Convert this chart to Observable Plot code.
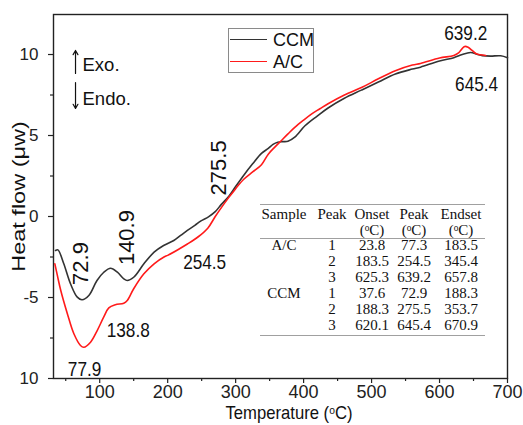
<!DOCTYPE html>
<html><head><meta charset="utf-8">
<script src="https://cdn.jsdelivr.net/npm/d3@7"></script>
<script src="https://cdn.jsdelivr.net/npm/@observablehq/plot@0.6"></script>
<style>
body{margin:0;background:#fff;}
#wrap{position:relative;width:523px;height:425px;overflow:hidden;font-family:"Liberation Sans",Arial,sans-serif;color:#111;}
.abs{position:absolute;white-space:nowrap;}
.cell{position:absolute;transform:translateX(-50%);text-align:center;font-family:"Liberation Serif","Times New Roman",serif;font-size:15px;line-height:13px;color:#111;white-space:nowrap;}
.rule{position:absolute;height:0;border-top:1px solid #a0a0a0;}
sup{font-size:0.62em;vertical-align:0.45em;line-height:0;}
</style></head><body><div id="wrap"></div>
<script>
// ---- data ----
const ccmT = [35,38.5,47,57,67,74,84,96,106,116,126,135.5,140.5,150,165,180,194,209,219,229,240,249,260,270,279,290,300,312,325,338,348,355,362,370,377,387,402,420,436,460,485,510,535,560,572,600,621,630,640,646,655,663,675,690,700];
const ccmH = [-2.1,-2.06,-2.9,-4.15,-4.98,-5.14,-4.88,-3.95,-3.44,-3.19,-3.44,-3.85,-3.95,-3.75,-2.92,-2.2,-1.79,-1.48,-1.17,-0.86,-0.55,-0.27,-0.02,0.3,0.75,1.25,1.85,2.55,3.25,3.9,4.2,4.45,4.58,4.62,4.65,4.9,5.6,6.2,6.7,7.3,7.8,8.3,8.8,9.1,9.22,9.6,9.8,9.95,10.08,10.12,10.02,9.93,9.9,9.92,9.8];
const acT = [34,38,42.7,52.4,62,71.7,76.6,86.5,96.3,106,113.4,123,135.4,140.5,150,165,180,194.6,200,215,229,245,259,270,279,290,300,312,325,338,348,358,367,377,387,400,412,424,436,460,486,510,535,560,572,600,621,628,633,637,642,648,654,660,668];
const acH = [-2.92,-3.7,-4.57,-6.0,-7.24,-7.96,-8.07,-7.76,-7.04,-6.2,-5.64,-5.45,-5.35,-5.19,-4.46,-3.54,-2.92,-2.5,-2.4,-2.05,-1.7,-1.25,-0.72,0.0,0.55,1.18,1.72,2.3,2.75,3.2,3.85,4.3,4.68,5.1,5.5,5.95,6.34,6.65,6.96,7.5,7.98,8.5,9.0,9.35,9.45,9.78,9.94,10.1,10.35,10.5,10.45,10.25,10.05,9.98,9.94];

const seriesNames = ["CCM", "A/C"];
const seriesColors = ["#333333", "#ff1a1a"];

const xTicks = [100,200,300,400,500,600,700];
const xMinorTicks = [50,150,250,350,450,550,650];
const yTicks = [-10,-5,0,5,10];
const yTickLabels = ["10","-5","0","5","10"];
const yMinorTicks = [-7.5,-2.5,2.5,7.5];

const xTitle = "Temperature (";
const yTitle = "Heat flow (μw)";

// peak labels
const vLabelText = ["72.9","140.9","275.5"];
const vLabelT = [73,140,275];
const vLabelH = [-2.9,-1.3,3.0];
const hLabelText = ["254.5","138.8","77.9","639.2","645.4"];
const hLabelT = [254.4,141.9,77.7,638.5,654.6];
const hLabelH = [-2.85,-7.0,-9.4,11.33,8.15];

// Exo / Endo
const dirText = ["Exo.","Endo."];
const dirT = [74.7,74.7];
const dirH = [9.32,7.22];
const arrowT = [64.4,64.4];
const arrowFrom = [8.83,8.27];
const arrowTo = [10.25,6.67];

// table
const tableHeader1 = ["Sample","Peak","Onset","Peak","Endset"];
const tableHeader2 = ["","","(<sup>o</sup>C)","(<sup>o</sup>C)","(<sup>o</sup>C)"];
const tableSample = ["A/C","","","CCM","",""];
const tablePeak = ["1","2","3","1","2","3"];
const tableOnset = ["23.8","183.5","625.3","37.6","188.3","620.1"];
const tablePeakT = ["77.3","254.5","639.2","72.9","275.5","645.4"];
const tableEndset = ["183.5","345.4","657.8","188.3","353.7","670.9"];

// ---- build ----
const ccm = ccmT.map((t,i)=>({t, h: ccmH[i]}));
const ac = acT.map((t,i)=>({t, h: acH[i]}));
const vLabels = vLabelText.map((s,i)=>({s, t:vLabelT[i], h:vLabelH[i]}));
const hLabels = hLabelText.map((s,i)=>({s, t:hLabelT[i], h:hLabelH[i]}));
const dirs = dirText.map((s,i)=>({s, t:dirT[i], h:dirH[i]}));
const arrows = arrowT.map((t,i)=>({t, h1:arrowFrom[i], h2:arrowTo[i]}));
const yLab = new Map(yTicks.map((v,i)=>[v, yTickLabels[i]]));

const plot = Plot.plot({
  width: 523, height: 425,
  marginLeft: 53, marginRight: 16, marginTop: 14, marginBottom: 47,
  x: {domain: [32, 700]},
  y: {domain: [-10, 12.47]},
  style: {fontFamily: "'Liberation Sans',Arial,sans-serif", fontSize: "17px", color: "#222", background: "transparent"},
  marks: [
    Plot.axisX({ticks: xTicks, tickSize: 5, tickPadding: 2, tickFormat: d => String(d), label: null, fontSize: 18, strokeWidth: 1.2}),
    Plot.axisX({ticks: xMinorTicks, tickSize: 3, tickFormat: () => "", label: null, strokeWidth: 1.2}),
    Plot.axisY({ticks: yTicks, tickSize: 5, tickPadding: 10, tickFormat: d => yLab.get(d), label: null, fontSize: 17, strokeWidth: 1.2}),
    Plot.axisY({ticks: yMinorTicks, tickSize: 3, tickFormat: () => "", label: null, strokeWidth: 1.2}),
    Plot.frame({stroke: "#222", strokeWidth: 1.4}),
    Plot.line(ccm, {x: "t", y: "h", stroke: seriesColors[0], strokeWidth: 1.6, curve: "catmull-rom"}),
    Plot.line(ac, {x: "t", y: "h", stroke: seriesColors[1], strokeWidth: 1.6, curve: "catmull-rom"}),
    Plot.text(vLabels, {x: "t", y: "h", text: "s", rotate: -90, fontSize: 22, fill: "#111"}),
    Plot.text(hLabels, {x: "t", y: "h", text: "s", fontSize: 21, fill: "#111"}),
    Plot.arrow(arrows, {x1: "t", y1: "h1", x2: "t", y2: "h2", stroke: "#111", strokeWidth: 1.2, headLength: 6}),
    Plot.text(dirs, {x: "t", y: "h", text: "s", textAnchor: "start", fontSize: 18.5, fill: "#111"}),
    Plot.text([yTitle], {frameAnchor: "left", text: d => d, rotate: -90, textAnchor: "middle", dx: -35, fontSize: 23.5, fill: "#111"})
  ]
});
// horizontal condensing, as in the reference
const hSet = new Set(hLabelText);
plot.querySelectorAll("text").forEach(t => {
  const tr = t.getAttribute("transform") || "";
  if (hSet.has(t.textContent)) t.setAttribute("transform", tr + " scale(0.82,1)");
  else if (t.textContent === yTitle && tr.includes("rotate(-90)")) t.setAttribute("transform", tr.replace("rotate(-90)", "scale(0.8,1) rotate(-90)"));
});
const wrap = document.getElementById("wrap");
wrap.appendChild(plot);
plot.style.position = "absolute"; plot.style.left = "0"; plot.style.top = "0";

// x title
const xt = document.createElement("div");
xt.className = "abs";
xt.style.cssText = "left:289px;top:406px;transform:translateX(-50%) scaleX(0.9);font-size:18.5px;line-height:14px;";
xt.innerHTML = xTitle + "<sup>o</sup>C)";
wrap.appendChild(xt);

// legend
const lg = document.createElement("div");
lg.className = "abs";
lg.style.cssText = "left:228px;top:28px;width:84px;height:43px;border:1px solid #8a8a8a;background:#fff;";
seriesNames.forEach((n,i)=>{
  const ln = document.createElement("div");
  ln.className = "abs";
  ln.style.cssText = `left:1px;top:${10 + i*22}px;width:37px;height:0;border-top:1.6px solid ${seriesColors[i]};`;
  lg.appendChild(ln);
  const tx = document.createElement("div");
  tx.className = "abs";
  tx.style.cssText = `left:44px;top:${1 + i*22}px;font-size:18px;line-height:20px;`;
  tx.textContent = n;
  lg.appendChild(tx);
});
wrap.appendChild(lg);

// table
const colX = [284, 332, 372, 414, 461];
const addCell = (html, cx, cy) => {
  if (!html) return;
  const c = document.createElement("div");
  c.className = "cell";
  c.style.left = cx + "px";
  c.style.top = (cy - 6.5) + "px";
  c.innerHTML = html;
  wrap.appendChild(c);
};
const addRule = (y) => {
  const r = document.createElement("div");
  r.className = "rule";
  r.style.cssText = `left:260px;width:225px;top:${y}px;`;
  wrap.appendChild(r);
};
addRule(204); addRule(238); addRule(335);
tableHeader1.forEach((s,i)=>addCell(s, colX[i], 214));
tableHeader2.forEach((s,i)=>addCell(s, colX[i], 230));
const rowY = [245, 261, 277, 293, 309, 325];
rowY.forEach((y,r)=>{
  addCell(tableSample[r], colX[0], y);
  addCell(tablePeak[r], colX[1], y);
  addCell(tableOnset[r], colX[2], y);
  addCell(tablePeakT[r], colX[3], y);
  addCell(tableEndset[r], colX[4], y);
});
</script></body></html>
